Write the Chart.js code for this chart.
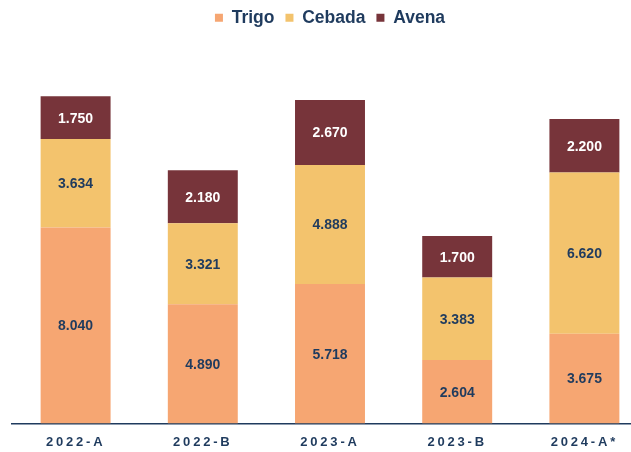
<!DOCTYPE html>
<html>
<head>
<meta charset="utf-8">
<script src="https://cdn.jsdelivr.net/npm/chart.js@4/dist/chart.umd.min.js"></script>
<style>
  html, body { margin: 0; padding: 0; background: #ffffff; overflow: hidden; }
  #wrap { width: 660px; height: 463px; margin-top: -2px; }
  canvas { display: block; }
</style>
</head>
<body>
<div id="wrap"><canvas id="c" width="660" height="463"></canvas></div>
<script>
const categories = ['2022-A', '2022-B', '2023-A', '2023-B', '2024-A*'];
const trigo  = [8040, 4890, 5718, 2604, 3675];
const cebada = [3634, 3321, 4888, 3383, 6620];
const avena  = [1750, 2180, 2670, 1700, 2200];
const seriesNames = ['Trigo', 'Cebada', 'Avena'];

const NAVY = '#1f3b5e';
const FONT = '"Liberation Sans", Arial, Helvetica, sans-serif';

function fmt(v) {
  return String(v).replace(/\B(?=(\d{3})+(?!\d))/g, '.');
}

// letter-spaced x-axis labels
const origDrawLabels = Chart.CategoryScale.prototype.drawLabels;
Chart.CategoryScale.prototype.drawLabels = function (area) {
  const ctx = this.ctx;
  ctx.save();
  ctx.letterSpacing = '2.8px';
  origDrawLabels.call(this, area);
  ctx.restore();
};

const valueLabels = {
  id: 'valueLabels',
  afterDatasetsDraw(chart) {
    const ctx = chart.ctx;
    ctx.save();
    ctx.font = 'bold 14px ' + FONT;
    ctx.textAlign = 'center';
    ctx.textBaseline = 'middle';
    chart.data.datasets.forEach((ds, di) => {
      const meta = chart.getDatasetMeta(di);
      meta.data.forEach((bar, i) => {
        const v = ds.data[i];
        ctx.fillStyle = di === 2 ? '#ffffff' : NAVY;
        ctx.fillText(fmt(v), bar.x, (bar.y + bar.base) / 2 + 1);
      });
    });
    ctx.restore();
  }
};

new Chart(document.getElementById('c'), {
  type: 'bar',
  data: {
    labels: categories,
    datasets: [
      { label: seriesNames[0], data: trigo,  backgroundColor: '#f6a672' },
      { label: seriesNames[1], data: cebada, backgroundColor: '#f3c36d' },
      { label: seriesNames[2], data: avena,  backgroundColor: '#77343a' }
    ]
  },
  options: {
    responsive: false,
    animation: false,
    devicePixelRatio: 1,
    layout: { padding: { left: 12, right: 12, top: 0, bottom: 0 } },
    datasets: { bar: { barPercentage: 0.55, categoryPercentage: 1.0, borderWidth: 0 } },
    plugins: {
      tooltip: { enabled: false },
      legend: {
        position: 'top',
        labels: {
          color: NAVY,
          font: { family: FONT, size: 17.5, weight: 'bold' },
          boxWidth: 8,
          boxHeight: 8,
          padding: 11
        }
      }
    },
    scales: {
      x: {
        stacked: true,
        grid: { display: false, drawTicks: false },
        border: { display: true, color: NAVY, width: 1.5 },
        ticks: {
          color: NAVY,
          padding: 11,
          font: { family: FONT, size: 13, weight: 'bold' }
        }
      },
      y: {
        stacked: true,
        display: false,
        min: 0,
        max: 15880
      }
    }
  },
  plugins: [valueLabels]
});
</script>
</body>
</html>
